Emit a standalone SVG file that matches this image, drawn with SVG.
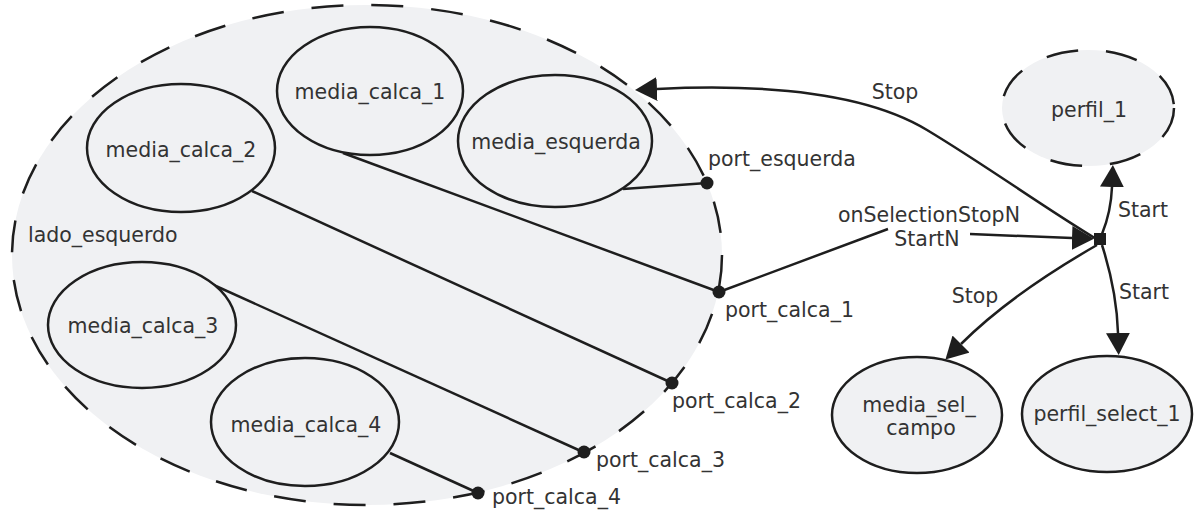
<svg xmlns="http://www.w3.org/2000/svg" width="1196" height="510" viewBox="0 0 1196 510">
  <defs>
    <style>
      .node { fill: #f0f1f3; stroke: #1e1e1e; stroke-width: 2.5; }
      .dashed { stroke-dasharray: 32 28; }
      .edge { fill: none; stroke: #1e1e1e; stroke-width: 2.5; }
      .label { font-family: "DejaVu Sans", "Liberation Sans", sans-serif; font-size: 20.5px; fill: #333333; }
      .mid { text-anchor: middle; }
      .port { fill: #1e1e1e; }
    </style>
    <marker id="arrow" markerUnits="userSpaceOnUse" viewBox="0 0 22 24" markerWidth="22" markerHeight="24" refX="0" refY="12" orient="auto">
      <path d="M0,0 L22,12 L0,24 z" fill="#1e1e1e"/>
    </marker>
  </defs>

  <!-- composite actor -->
  <g id="lado_esquerdo">
    <ellipse class="node dashed" cx="367" cy="255" rx="355" ry="250"/>
    <text class="label" x="28" y="242">lado_esquerdo</text>
  </g>

  <!-- connectors -->
  <g id="connectors">
    <path class="edge" d="M623,189 L707,183"/>
    <path class="edge" d="M343,153 L719,292"/>
    <path class="edge" d="M252,191 L672,383"/>
    <path class="edge" d="M207,282 L583,452"/>
    <path class="edge" d="M390,453 L478,493"/>
    <path class="edge" d="M719,292 L888,229 M970,234 L1072,238" marker-end="url(#arrow)"/>
    <path class="edge" d="M1098,240 C1040,205 990,168 927,130 S760,84 657,89" marker-end="url(#arrow)"/>
    <path class="edge" d="M1102,234 Q1111,212 1112,187" marker-end="url(#arrow)"/>
    <path class="edge" d="M1102,245 C1110,270 1117,300 1118,333" marker-end="url(#arrow)"/>
    <path class="edge" d="M1097,245 C1050,272 1000,305 961,344" marker-end="url(#arrow)"/>
    <text class="label mid" x="895" y="99">Stop</text>
    <text class="label mid" x="929" y="222">onSelectionStopN</text>
    <text class="label mid" x="927" y="246">StartN</text>
    <text class="label" x="1118" y="217">Start</text>
    <text class="label" x="1119" y="299">Start</text>
    <text class="label mid" x="975" y="303">Stop</text>
  </g>

  <g id="media_calca_1">
    <ellipse class="node" cx="370" cy="91" rx="93" ry="64"/>
    <text class="label mid" x="370" y="99">media_calca_1</text>
  </g>
  <g id="media_calca_2">
    <ellipse class="node" cx="181" cy="148" rx="94" ry="64"/>
    <text class="label mid" x="181" y="157">media_calca_2</text>
  </g>
  <g id="media_esquerda">
    <ellipse class="node" cx="555" cy="141" rx="97" ry="66"/>
    <text class="label mid" x="556" y="149">media_esquerda</text>
  </g>
  <g id="media_calca_3">
    <ellipse class="node" cx="142" cy="325" rx="94" ry="63"/>
    <text class="label mid" x="143" y="333">media_calca_3</text>
  </g>
  <g id="media_calca_4">
    <ellipse class="node" cx="305" cy="422" rx="94" ry="64"/>
    <text class="label mid" x="306" y="432">media_calca_4</text>
  </g>

  <!-- ports on the composite boundary -->
  <g id="port_esquerda">
    <circle class="port" cx="707" cy="183" r="6.5"/>
    <text class="label" x="708" y="166">port_esquerda</text>
  </g>
  <g id="port_calca_1">
    <circle class="port" cx="719" cy="292" r="6.5"/>
    <text class="label" x="725" y="317">port_calca_1</text>
  </g>
  <g id="port_calca_2">
    <circle class="port" cx="672" cy="383" r="6.5"/>
    <text class="label" x="672" y="408">port_calca_2</text>
  </g>
  <g id="port_calca_3">
    <circle class="port" cx="584" cy="452" r="6.5"/>
    <text class="label" x="596" y="467">port_calca_3</text>
  </g>
  <g id="port_calca_4">
    <circle class="port" cx="478" cy="493" r="6.5"/>
    <text class="label" x="492" y="504">port_calca_4</text>
  </g>

  <!-- right-hand actors -->
  <g id="relation">
    <rect x="1094" y="233" width="12" height="12" fill="#1e1e1e"/>
  </g>
  <g id="perfil_1">
    <ellipse class="node dashed" cx="1088" cy="108" rx="86" ry="58"/>
    <text class="label mid" x="1089" y="117">perfil_1</text>
  </g>
  <g id="media_sel_campo">
    <ellipse class="node" cx="917" cy="415" rx="85" ry="58"/>
    <text class="label mid" x="919" y="412">media_sel_</text>
    <text class="label mid" x="921" y="435">campo</text>
  </g>
  <g id="perfil_select_1">
    <ellipse class="node" cx="1107" cy="414" rx="85" ry="58"/>
    <text class="label mid" x="1107" y="421">perfil_select_1</text>
  </g>
</svg>
